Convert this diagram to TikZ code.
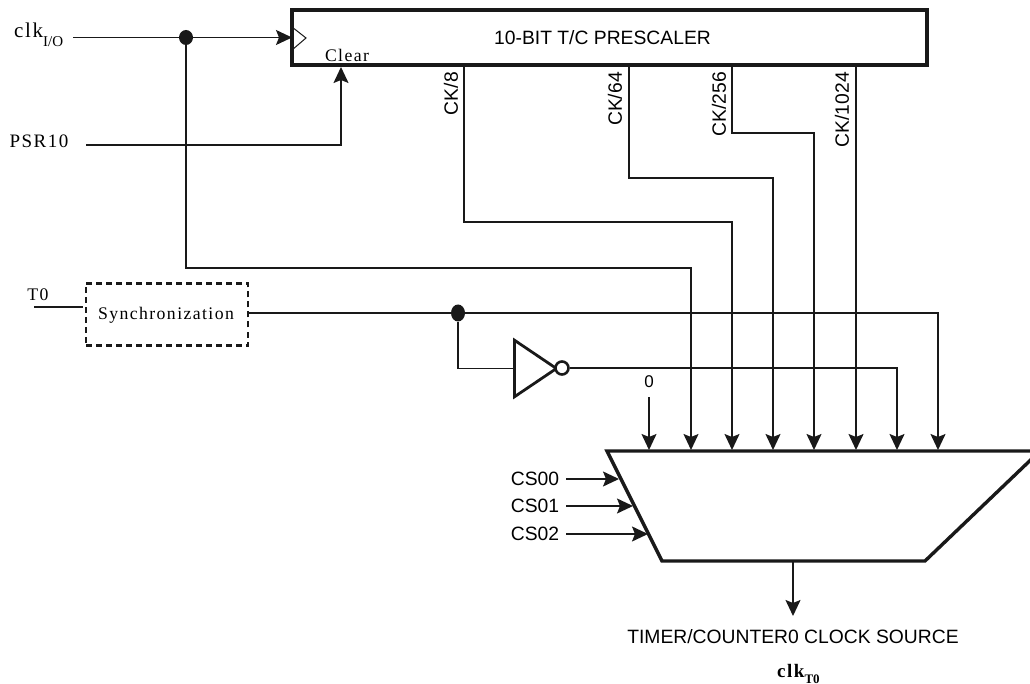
\documentclass[tikz,border=0pt]{standalone}
\usepackage{fontspec}
\setmainfont{Liberation Sans}
\newfontfamily\serifspaced[LetterSpace=8]{Liberation Serif}
\newfontfamily\serifplain{Liberation Serif}
\usetikzlibrary{positioning,calc,arrows.meta,shapes.geometric}

\tikzset{
    wire/.style={line width=1.5pt, draw=black!90},
    heavy/.style={line width=3.4pt, draw=black!90},
    sanslabel/.style={inner sep=0pt, font=\fontsize{19.3}{21}\selectfont},
    seriflabel/.style={inner sep=0pt, font=\serifspaced\fontsize{17.7}{20}\selectfont},
    junction/.style={ellipse, fill=black!90, inner sep=0pt, minimum width=14pt, minimum height=15pt},
}

\begin{document}
\begin{tikzpicture}[x=1pt, y=-1pt, >={Stealth[length=16pt,width=15pt,inset=3pt]}]
    \useasboundingbox (0,0) rectangle (1030,684);

    % prescaler
    \node[heavy, draw, minimum width=635pt, minimum height=55pt, inner sep=0pt] (prescaler) at (609.5,37.5) {};
    \node[sanslabel] (title) at (602.5,37.5) {10-BIT T/C PRESCALER};
    \node[seriflabel] (clear) at (347,55) {Clear};
    \coordinate (clkpin) at (292,37.5);
    \coordinate (clearpin) at (341,67);

    % inputs on the left
    \node[inner sep=0pt, anchor=base west, font=\serifspaced\fontsize{21}{23}\selectfont] (clkio) at (14,38) {clk\raisebox{-9pt}{\serifplain\fontsize{15}{17}\selectfont I/O}};
    \coordinate (clkstart) at (73,37.5);
    \node[seriflabel, font=\serifspaced\fontsize{19}{21}\selectfont] (psr) at (39,141) {PSR10};
    \coordinate (psrstart) at (86,145);
    \node[seriflabel] (tzero) at (38,295) {T0};
    \coordinate (tzerostart) at (34,307);
    \coordinate (tzeroend) at (83,307);

    % synchronizer
    \node[line width=2.2pt, draw=black!90, dash pattern=on 6pt off 4pt, minimum width=162pt, minimum height=62pt, inner sep=0pt] (sync) at (167,314.5) {};
    \node[seriflabel] (synctext) at (166,315) {Synchronization};

    % mux pins
    \foreach \name/\x in {pina/649, pinb/691, pinc/732, pind/773, pine/814, pinf/856, ping/897, pinh/938} {
        \coordinate (\name) at (\x,450);
    }

    % clock line
    \node[junction] (clkdot) at (186,37.5) {};
    \draw[wire] (clkstart) -- (clkdot);
    \draw[wire, ->] (clkdot) -- (clkpin);
    \draw[line width=1pt, draw=black!90] (292,27) -- (306,38) -- (292,50);
    \draw[wire, ->] (clkdot.south) -- (clkdot.south |- 0,268) -| (pinb);
    \draw[wire, ->] (psrstart) -| (clearpin);

    % prescaler outputs
    \coordinate (cka) at (464,65);
    \coordinate (ckb) at (629,65);
    \coordinate (ckc) at (732,65);
    \coordinate (ckd) at (856,65);
    \draw[wire, ->] (cka) |- (732,222) -- (pinc);
    \draw[wire, ->] (ckb) |- (773,178) -- (pind);
    \draw[wire, ->] (ckc) |- (814,133) -- (pine);
    \draw[wire, ->] (ckd) -- (pinf);
    \node[sanslabel, rotate=90, anchor=east] (ckatext) at (451,72) {CK/8};
    \node[sanslabel, rotate=90, anchor=east] (ckbtext) at (615,72) {CK/64};
    \node[sanslabel, rotate=90, anchor=east] (ckctext) at (719,72) {CK/256};
    \node[sanslabel, rotate=90, anchor=east] (ckdtext) at (842,72) {CK/1024};

    % T0 path
    \draw[wire] (tzerostart) -- (tzeroend);
    \node[junction, minimum height=17pt] (tdot) at (458,313) {};
    \draw[wire] (sync.east |- tdot) -- (tdot);
    \draw[wire, ->] (tdot) -| (pinh);

    % inverter
    \node[isosceles triangle, isosceles triangle apex angle=68, draw=black!90, line width=2.8pt, fill=white, inner sep=0pt, minimum height=42pt, anchor=west] (inverter) at (513,368.5) {};
    \node[circle, draw=black!90, line width=2.6pt, fill=white, minimum size=13pt, inner sep=0pt] (bubble) at (562,368) {};
    \draw[wire] (tdot) |- (inverter.west);
    \draw[wire, ->] (bubble) -| (ping);

    % constant zero
    \node[sanslabel, font=\fontsize{17}{19}\selectfont] (zero) at (649,381.5) {0};
    \coordinate (zerostart) at (649,397);
    \draw[wire, ->] (zerostart) -- (pina);

    % mux body
    \draw[heavy] (1040,451) -- (607,451) -- (662,561) -- (925,561) -- cycle;

    % select lines
    \foreach \name/\y/\xtip in {CS00/479/619, CS01/506/633, CS02/534/648} {
        \node[sanslabel] (\name) at (535,\y) {\name};
        \draw[wire, ->] (566,\y) -- (\xtip,\y);
    }

    % output
    \coordinate (outstart) at (793,561);
    \coordinate (outend) at (793,616);
    \draw[wire, ->] (outstart) -- (outend);
    \node[sanslabel] (outtext) at (793,637) {TIMER/COUNTER0 CLOCK SOURCE};
    \node[inner sep=0pt, anchor=base west, font=\serifspaced\bfseries\fontsize{19}{21}\selectfont] (clkout) at (777,677) {clk\raisebox{-6pt}{\serifplain\bfseries\fontsize{13}{15}\selectfont T0}};
\end{tikzpicture}
\end{document}
